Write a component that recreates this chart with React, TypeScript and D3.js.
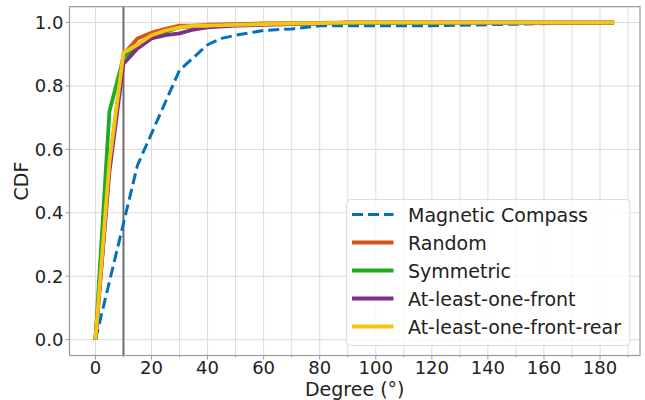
import React from "react";
import * as d3 from "d3";

const compassDeg = [0, 15, 20, 30, 40, 45, 50, 60, 70, 80, 90, 120, 150, 185];
const compassCdf = [0, 0.55, 0.65, 0.85, 0.93, 0.95, 0.96, 0.975, 0.98, 0.99, 0.99, 0.99, 0.995, 1.0];

const deg = [0, 5, 10, 15, 20, 25, 30, 35, 40, 50, 60, 70, 80, 90, 120, 150, 185];
const randomCdf = [0, 0.55, 0.9, 0.95, 0.968, 0.98, 0.99, 0.99, 0.993, 0.995, 0.997, 0.998, 0.999, 1, 1, 1, 1];
const symmetricCdf = [0, 0.72, 0.89, 0.92, 0.952, 0.97, 0.985, 0.988, 0.99, 0.993, 0.995, 0.997, 0.998, 1, 1, 1, 1];
const frontCdf = [0, 0.53, 0.87, 0.918, 0.95, 0.96, 0.966, 0.978, 0.985, 0.99, 0.993, 0.995, 0.997, 1, 1, 1, 1];
const frontRearCdf = [0, 0.56, 0.905, 0.93, 0.96, 0.975, 0.985, 0.99, 0.99, 0.993, 0.995, 0.997, 0.998, 1, 1, 1, 1];

const seriesNames = ["Magnetic Compass", "Random", "Symmetric", "At-least-one-front", "At-least-one-front-rear"];
const seriesColors = ["#0072BD", "#D95319", "#1FAA1F", "#7E2F8E", "#F5C512"];

const xTicks = [0, 20, 40, 60, 80, 100, 120, 140, 160, 180];
const xMinor = [10, 30, 50, 70, 90, 110, 130, 150, 170, 190];
const yTicks = [0, 0.2, 0.4, 0.6, 0.8, 1.0];
const refLine = 10;

const W = 645, H = 400;
const L = 69.5, R = 640, T = 6.7, B = 355.5;
const FONT = "DejaVu Sans, sans-serif";

export default function App() {
  const x = d3.scaleLinear().domain([-9.25, 194.25]).range([L, R]);
  const y = d3.scaleLinear().domain([-0.05, 1.05]).range([B, T]);
  const line = d3.line<[number, number]>().x(d => x(d[0])).y(d => y(d[1]));

  const series: { xs: number[]; ys: number[] }[] = [
    { xs: compassDeg, ys: compassCdf },
    { xs: deg, ys: randomCdf },
    { xs: deg, ys: symmetricCdf },
    { xs: deg, ys: frontCdf },
    { xs: deg, ys: frontRearCdf },
  ];

  const legX = 346.5, legY = 199.5, legW = 283.5, legH = 146, rowH = 28;

  return (
    <svg width={W} height={H} style={{ position: "absolute", left: 0, top: 0, background: "#fff" }} fontFamily={FONT}>
      <rect x={0} y={0} width={W} height={H} fill="#fff" />
      {[...xTicks, ...xMinor].map(v => (
        <line key={"gx" + v} x1={x(v)} x2={x(v)} y1={T} y2={B} stroke="#dcdcdc" strokeWidth={1} />
      ))}
      {yTicks.map(v => (
        <line key={"gy" + v} x1={L} x2={R} y1={y(v)} y2={y(v)} stroke="#dcdcdc" strokeWidth={1} />
      ))}
      <line x1={x(refLine)} x2={x(refLine)} y1={T} y2={B} stroke="#6b6b6b" strokeWidth={2} />
      {series.map((s, i) => (
        <path
          key={"s" + i}
          d={line(s.xs.map((v, j) => [v, s.ys[j]] as [number, number])) || ""}
          fill="none"
          stroke={seriesColors[i]}
          strokeWidth={i === 0 ? 3 : 3.8}
          strokeDasharray={i === 0 ? "11,5" : undefined}
          strokeLinejoin="round"
        />
      ))}
      <rect x={L} y={T} width={R - L} height={B - T} fill="none" stroke="#9a9a9a" strokeWidth={1.2} />
      {xTicks.map(v => (
        <g key={"xt" + v}>
          <line x1={x(v)} x2={x(v)} y1={B} y2={B + 4} stroke="#9a9a9a" />
          <text x={x(v)} y={374} textAnchor="middle" fontSize={18} fill="#222">{v}</text>
        </g>
      ))}
      {xMinor.map(v => (
        <line key={"xm" + v} x1={x(v)} x2={x(v)} y1={B} y2={B + 2} stroke="#9a9a9a" />
      ))}
      {yTicks.map(v => (
        <g key={"yt" + v}>
          <line x1={L - 4} x2={L} y1={y(v)} y2={y(v)} stroke="#9a9a9a" />
          <text x={63.5} y={y(v) + 6.5} textAnchor="end" fontSize={18} fill="#222">{v.toFixed(1)}</text>
        </g>
      ))}
      <text x={(L + R) / 2} y={395.5} textAnchor="middle" fontSize={19} fill="#222">Degree (°)</text>
      <text transform={`translate(28,${(T + B) / 2}) rotate(-90)`} textAnchor="middle" fontSize={19} fill="#222">CDF</text>
      <rect x={legX} y={legY} width={legW} height={legH} rx={4} fill="#fff" fillOpacity={0.8} stroke="#dddddd" />
      {seriesNames.map((n, i) => {
        const cy = legY + 15 + i * rowH;
        return (
          <g key={"lg" + n}>
            <line x1={legX + 5.5} x2={legX + 47} y1={cy} y2={cy} stroke={seriesColors[i]} strokeWidth={i === 0 ? 3 : 3.8}
              strokeDasharray={i === 0 ? "11,5" : undefined} />
            <text x={408} y={cy + 7} fontSize={19} fill="#222">{n}</text>
          </g>
        );
      })}
    </svg>
  );
}
